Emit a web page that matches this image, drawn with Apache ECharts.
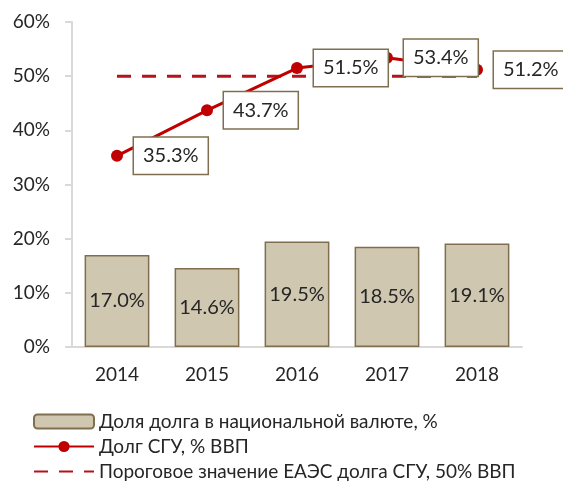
<!DOCTYPE html>
<html>
<head>
<meta charset="utf-8">
<script src="https://cdn.jsdelivr.net/npm/echarts@6/dist/echarts.min.js"></script>
<style>
	html, body { margin: 0; padding: 0; background: #fff; }
	#chart { width: 563px; height: 489px; }
</style>
</head>
<body>
<div id="chart"></div>
<script>
let years = ['2014', '2015', '2016', '2017', '2018'];
let share_national = [17.0, 14.6, 19.5, 18.5, 19.1]; // доля долга в нац. валюте
let debt_gdp = [35.3, 43.7, 51.5, 53.4, 51.2]; // долг СГУ, % ВВП
let threshold = [50, 50, 50, 50, 50]; // порог ЕАЭС
let y_ticks = { min: 0, max: 60, interval: 10 };

let font = 'Lato, "Open Sans", sans-serif';
let text_color = '#262626';

let chart = echarts.init(document.getElementById('chart'));
let option = {
	animation: false,
	textStyle: { fontFamily: font },
	grid: { left: 72, right: 41, top: 22, bottom: 142 },
	legend: {
		orient: 'vertical',
		left: 28,
		top: 407,
		height: 100,
		itemWidth: 60,
		itemHeight: 14,
		itemGap: 6,
		textStyle: { fontSize: 19, color: text_color, fontFamily: font },
		data: [
			{ name: 'Доля долга в национальной валюте, %' },
			{ name: 'Долг СГУ, % ВВП' },
			{ name: 'Пороговое значение ЕАЭС долга СГУ, 50% ВВП', itemStyle: { opacity: 0 } },
		],
	},
	xAxis: {
		type: 'category',
		data: years,
		axisLine: { lineStyle: { color: '#D9D9D9', width: 2 } },
		axisTick: { show: false },
		axisLabel: { fontSize: 19, color: text_color, margin: 18 },
	},
	yAxis: {
		type: 'value',
		min: y_ticks.min,
		max: y_ticks.max,
		interval: y_ticks.interval,
		splitLine: { show: false },
		axisLine: { show: true, lineStyle: { color: '#D9D9D9', width: 2 } },
		axisTick: { show: true, length: 7, lineStyle: { color: '#D9D9D9', width: 2 } },
		axisLabel: { fontSize: 19, color: text_color, margin: 22, formatter: '{value}%' },
	},
	series: [
		{
			name: 'Доля долга в национальной валюте, %',
			type: 'bar',
			data: share_national,
			barWidth: '72%',
			itemStyle: { color: '#D0C7B1', borderColor: '#7F6F4F', borderWidth: 1.5 },
			label: {
				show: true,
				position: 'inside',
				fontSize: 20,
				color: text_color,
				formatter: (p) => p.value.toFixed(1) + '%',
			},
		},
		{
			name: 'Пороговое значение ЕАЭС долга СГУ, 50% ВВП',
			type: 'line',
			data: threshold,
			symbol: 'none',
			lineStyle: { color: '#B5121B', width: 3, type: [14, 11] },
			itemStyle: { color: '#B5121B' },
		},
		{
			name: 'Долг СГУ, % ВВП',
			type: 'line',
			data: debt_gdp,
			symbol: 'circle',
			symbolSize: 12,
			lineStyle: { color: '#C00000', width: 3 },
			itemStyle: { color: '#C00000' },
			label: {
				show: true,
				position: 'right',
				distance: 11,
				fontSize: 20,
				color: text_color,
				backgroundColor: '#fff',
				borderColor: '#7F6F4F',
				borderWidth: 1.5,
				padding: [9, 9, 7, 9],
				formatter: (p) => p.value.toFixed(1) + '%',
			},
			z: 5,
		},
	],
};
chart.setOption(option);
</script>
</body>
</html>
